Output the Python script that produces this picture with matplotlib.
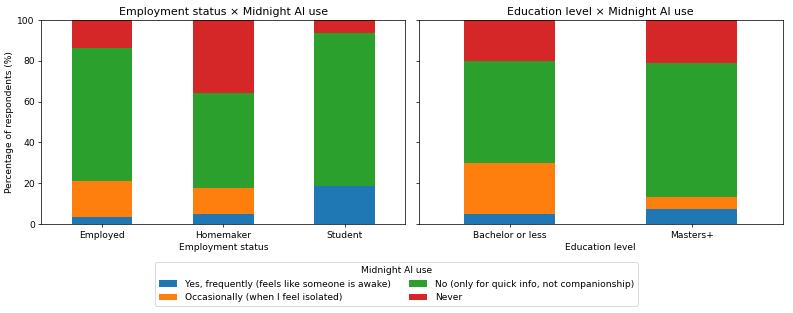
import matplotlib
matplotlib.use("Agg")
import matplotlib.pyplot as plt
import numpy as np

categories_emp = ["Employed", "Homemaker", "Student"]
categories_edu = ["Bachelor or less", "Masters+"]
responses = [
    "Yes, frequently (feels like someone is awake)",
    "Occasionally (when I feel isolated)",
    "No (only for quick info, not companionship)",
    "Never",
]
colors = ["#1f77b4", "#ff7f0e", "#2ca02c", "#d62728"]

# percentages per response per category
emp_yes = [3.6, 5.1, 18.75]
emp_occ = [17.4, 12.8, 0.0]
emp_no = [65.4, 46.2, 75.0]
emp_never = [13.6, 35.9, 6.25]

edu_yes = [5.0, 7.2]
edu_occ = [25.0, 5.9]
edu_no = [50.0, 65.9]
edu_never = [20.0, 21.0]

DPI = 66
fig, axes = plt.subplots(1, 2, sharey=True, figsize=(793 / DPI, 313 / DPI), dpi=DPI)
fig.subplots_adjust(left=0.052, right=0.987, top=0.936, bottom=0.284, wspace=0.036)

def stacked(ax, cats, series, title, xlabel):
    x = np.arange(len(cats))
    bottom = np.zeros(len(cats))
    handles = []
    for vals, c, lab in zip(series, colors, responses):
        vals = np.array(vals)
        h = ax.bar(x, vals, 0.5, bottom=bottom, color=c, label=lab)
        handles.append(h)
        bottom += vals
    ax.set_xticks(x)
    ax.set_xticklabels(cats, rotation=0)
    ax.set_xlim(-0.5, len(cats) - 0.5)
    ax.set_ylim(0, 100)
    ax.set_title(title)
    ax.set_xlabel(xlabel)
    return handles

h = stacked(axes[0], categories_emp, [emp_yes, emp_occ, emp_no, emp_never],
            "Employment status × Midnight AI use", "Employment status")
stacked(axes[1], categories_edu, [edu_yes, edu_occ, edu_no, edu_never],
        "Education level × Midnight AI use", "Education level")
axes[0].set_ylabel("Percentage of respondents (%)")

fig.legend(h, responses, title="Midnight AI use", loc="upper center",
           bbox_to_anchor=(0.5, 0.176), ncol=2)

fig.savefig("out.png", dpi=DPI)
